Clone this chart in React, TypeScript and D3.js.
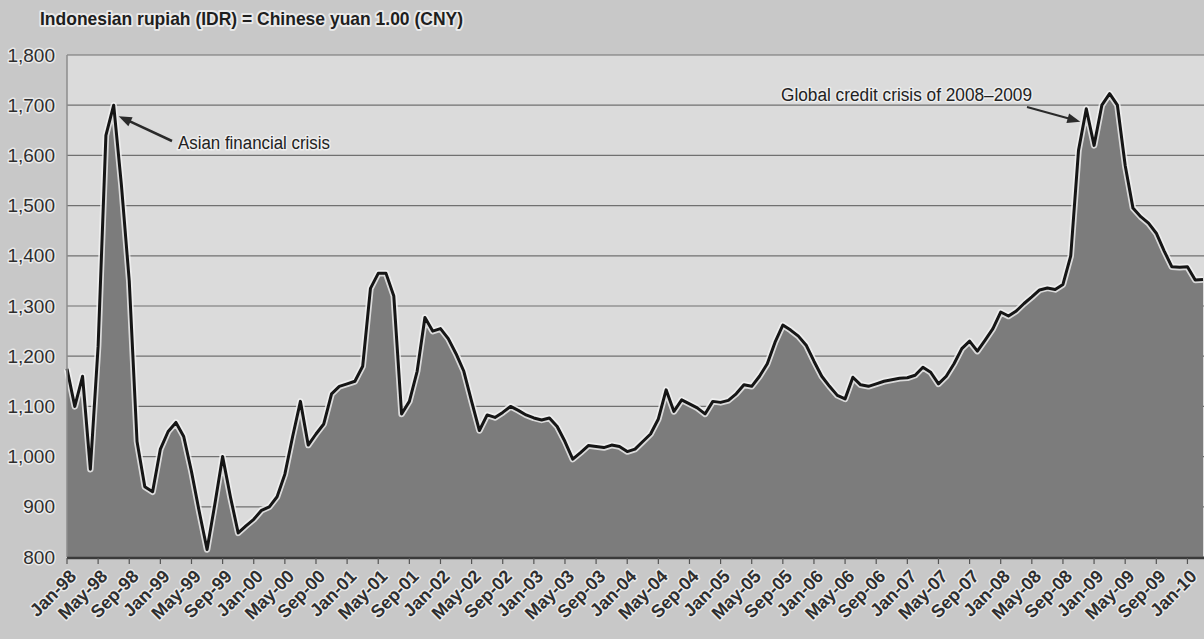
import React from "react";
import * as d3 from "d3";

// Monthly IDR per 1 CNY, Jan-98 .. Mar-10
const values: number[] = [
  1175, 1100, 1160, 975, 1220, 1640, 1700, 1540, 1350, 1030, 940, 930,
  1015, 1050, 1068, 1040, 970, 890, 815, 905, 1000, 920, 848, 862,
  875, 893, 900, 920, 965, 1040, 1110, 1023, 1045, 1065, 1125, 1140,
  1145, 1150, 1180, 1335, 1365, 1365, 1320, 1085, 1110, 1170, 1277, 1250,
  1255, 1235, 1205, 1170, 1110, 1052, 1083, 1078, 1088, 1100, 1092, 1083,
  1077, 1073, 1077, 1060, 1030, 995, 1008, 1022, 1020, 1018, 1023, 1020,
  1010, 1015, 1030, 1045, 1075, 1133, 1090, 1113, 1105, 1097, 1085, 1110,
  1108, 1112, 1125, 1143, 1140, 1160, 1185, 1228, 1262, 1252, 1240, 1222,
  1190, 1160, 1140, 1122, 1115, 1158, 1143, 1140, 1145, 1150, 1153, 1156,
  1157, 1162, 1178, 1168, 1145, 1160, 1185, 1215, 1230, 1210, 1232, 1255,
  1288, 1280, 1290, 1305, 1318, 1332, 1336, 1333, 1343, 1400, 1610, 1693,
  1620, 1700, 1723, 1700, 1580, 1495, 1478, 1465, 1445, 1410, 1378, 1377,
  1378, 1352, 1353,
];

const tickLabels: string[] = [
  "Jan-98", "May-98", "Sep-98", "Jan-99", "May-99", "Sep-99", "Jan-00", "May-00", "Sep-00",
  "Jan-01", "May-01", "Sep-01", "Jan-02", "May-02", "Sep-02", "Jan-03", "May-03", "Sep-03",
  "Jan-04", "May-04", "Sep-04", "Jan-05", "May-05", "Sep-05", "Jan-06", "May-06", "Sep-06",
  "Jan-07", "May-07", "Sep-07", "Jan-08", "May-08", "Sep-08", "Jan-09", "May-09", "Sep-09",
  "Jan-10",
];

const yTicks: number[] = [800, 900, 1000, 1100, 1200, 1300, 1400, 1500, 1600, 1700, 1800];

const title = "Indonesian rupiah (IDR) = Chinese yuan 1.00 (CNY)";
const asianLabel = "Asian financial crisis";
const asianMonth = "Jul-98";
const globalLabel = "Global credit crisis of 2008\u20132009";
const globalMonth = "Dec-08";

const FONT = "'Liberation Sans Narrow', 'Arial Narrow', 'Liberation Sans', Arial, sans-serif";

export default function App() {
  const W = 1204;
  const H = 639;
  const categories = d3
    .utcMonths(new Date(Date.UTC(1998, 0, 1)), new Date(Date.UTC(1998, values.length, 1)))
    .map(d3.utcFormat("%b-%y"));
  const x = d3.scalePoint<string>().domain(categories).range([67, 1203]);
  const y = d3.scaleLinear().domain([800, 1800]).range([557, 55]);

  const area = d3
    .area<number>()
    .x((_, i) => x(categories[i]) as number)
    .y0(y(800))
    .y1((d) => y(d));
  const line = d3
    .line<number>()
    .x((_, i) => x(categories[i]) as number)
    .y((d) => y(d));

  const fmt = d3.format(",");
  const plotLeft = 67;
  const plotRight = W;

  const ai = categories.indexOf(asianMonth);
  const gi = categories.indexOf(globalMonth);
  const aTip = [(x(asianMonth) as number) + 5, y(values[ai]) + 11];
  const gTip = [(x(globalMonth) as number) - 6, y(values[gi]) + 13];
  const aTail = [172, 141];
  const gTail = [1027, 107];

  const arrowHead = (tail: number[], tip: number[]) => {
    const ang = Math.atan2(tip[1] - tail[1], tip[0] - tail[0]);
    const L = 13, Wd = 5;
    const bx = tip[0] - L * Math.cos(ang), by = tip[1] - L * Math.sin(ang);
    const px = -Math.sin(ang) * Wd, py = Math.cos(ang) * Wd;
    return `M${tip[0]},${tip[1]}L${bx + px},${by + py}L${bx - px},${by - py}Z`;
  };
  const arrowLineEnd = (tail: number[], tip: number[]) => {
    const ang = Math.atan2(tip[1] - tail[1], tip[0] - tail[0]);
    return [tip[0] - 10 * Math.cos(ang), tip[1] - 10 * Math.sin(ang)];
  };
  const aEnd = arrowLineEnd(aTail, aTip);
  const gEnd = arrowLineEnd(gTail, gTip);

  const halo = { paintOrder: "stroke" as const, stroke: "#f4f4f4", strokeWidth: 3, strokeOpacity: 0.75, strokeLinejoin: "round" as const };

  return (
    <svg width={W} height={H} style={{ position: "absolute", left: 0, top: 0, background: "#c9c9c9" }} fontFamily={FONT}>
      <rect x={0} y={0} width={W} height={H} fill="#c8c8c8" />
      <rect x={plotLeft} y={y(1800)} width={plotRight - plotLeft} height={y(800) - y(1800)} fill="#dbdbdb" />
      {yTicks.map((t) => (
        <line key={t} x1={plotLeft} x2={plotRight} y1={y(t)} y2={y(t)} stroke="#707070" strokeWidth={1.2} />
      ))}
      <path d={area(values) as string} fill="#7c7c7c" />
      <path d={line(values) as string} fill="none" stroke="#f2f2f2" strokeOpacity={0.8} strokeWidth={6.5} strokeLinejoin="round" />
      <path d={line(values) as string} fill="none" stroke="#151515" strokeWidth={3} strokeLinejoin="round" />
      <line x1={plotLeft} x2={plotLeft} y1={y(1800)} y2={y(800)} stroke="#8c8c8c" strokeWidth={1.5} />
      <line x1={plotLeft} x2={plotRight} y1={y(800) + 1} y2={y(800) + 1} stroke="#3a3a3a" strokeWidth={2.5} />
      {tickLabels.map((t) => {
        const xx = x(t) as number;
        return (
          <g key={t}>
            <line x1={xx} x2={xx} y1={y(800) + 1} y2={y(800) + 7} stroke="#555" strokeWidth={1.2} />
            <text
              transform={`translate(${xx + 6},${y(800) + 16}) rotate(-45)`}
              textAnchor="end"
              dy="0.35em"
              fontSize={18}
              fontWeight="bold"
              fill="#2e2e2e"
              style={halo}
            >
              {t}
            </text>
          </g>
        );
      })}
      {yTicks.map((t) => (
        <text key={t} x={55} y={y(t)} dy="0.35em" textAnchor="end" fontSize={19} fill="#2e2e2e" style={halo}>
          {fmt(t)}
        </text>
      ))}
      <text x={40} y={25} fontSize={19} fontWeight="bold" fill="#1e1e1e" textLength={423} lengthAdjust="spacingAndGlyphs" style={{ ...halo, strokeWidth: 4 }}>
        {title}
      </text>
      <line x1={aTail[0]} y1={aTail[1]} x2={aEnd[0]} y2={aEnd[1]} stroke="#2a2a2a" strokeWidth={2.5} />
      <path d={arrowHead(aTail, aTip)} fill="#2a2a2a" />
      <text x={178} y={149} fontSize={18} fill="#222" textLength={152} lengthAdjust="spacingAndGlyphs" style={halo}>
        {asianLabel}
      </text>
      <line x1={gTail[0]} y1={gTail[1]} x2={gEnd[0]} y2={gEnd[1]} stroke="#2a2a2a" strokeWidth={2} />
      <path d={arrowHead(gTail, gTip)} fill="#2a2a2a" />
      <text x={781} y={101} fontSize={18} fill="#222" textLength={251} lengthAdjust="spacingAndGlyphs" style={halo}>
        {globalLabel}
      </text>
    </svg>
  );
}
